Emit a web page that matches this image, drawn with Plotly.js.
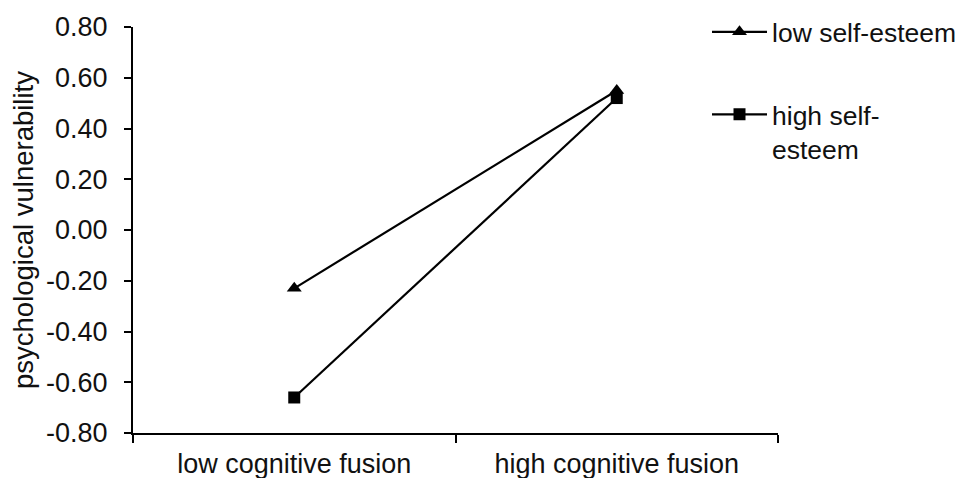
<!DOCTYPE html>
<html>
<head>
<meta charset="utf-8">
<script src="https://cdn.plot.ly/plotly-3.0.1.min.js"></script>
<style>html,body{margin:0;padding:0;background:#fff;}#chart{width:961px;height:478px;}</style>
</head>
<body>
<div id="chart"></div>
<script>
const categories = ["low cognitive fusion", "high cognitive fusion"];
const lowSelfEsteem = [-0.23, 0.55];
const highSelfEsteem = [-0.66, 0.52];
const yTicks = [-0.8, -0.6, -0.4, -0.2, 0, 0.2, 0.4, 0.6, 0.8];
const yTickLabels = ["-0.80", "-0.60", "-0.40", "-0.20", "0.00", "0.20", "0.40", "0.60", "0.80"];
const seriesNames = ["low self-esteem", "high self-<br>esteem"];

const font = {family: "Liberation Sans, Arial, sans-serif", color: "#111"};

const traces = [
  {
    x: categories, y: lowSelfEsteem, name: seriesNames[0], type: "scatter", mode: "lines+markers",
    line: {color: "#000", width: 2.2}, marker: {symbol: "triangle-up", size: 13, color: "#000"},
    legendgroup: "a"
  },
  {
    x: categories, y: highSelfEsteem, name: seriesNames[1], type: "scatter", mode: "lines+markers",
    line: {color: "#000", width: 2.2}, marker: {symbol: "square", size: 12, color: "#000"},
    legendgroup: "b"
  }
];

const layout = {
  width: 961, height: 478,
  margin: {l: 133, r: 183, t: 27, b: 45, autoexpand: false},
  paper_bgcolor: "#fff", plot_bgcolor: "#fff",
  font: font,
  showlegend: true,
  legend: {
    xref: "container", yref: "container",
    x: 0.7357, y: 0.983, xanchor: "left", yanchor: "top",
    font: {family: font.family, size: 26.5, color: "#111"},
    tracegroupgap: 45, itemwidth: 55, valign: "top", bgcolor: "rgba(0,0,0,0)"
  },
  xaxis: {
    type: "category", range: [-0.5, 1.5],
    showline: true, linecolor: "#000", linewidth: 2,
    ticks: "outside", tickson: "boundaries", ticklen: 8, tickwidth: 2, tickcolor: "#000",
    tickfont: {family: font.family, size: 27, color: "#111"},
    ticklabelstandoff: 6,
    showgrid: false, zeroline: false, fixedrange: true
  },
  yaxis: {
    range: [-0.8, 0.8],
    tickvals: yTicks, ticktext: yTickLabels,
    showline: true, linecolor: "#000", linewidth: 2,
    ticks: "outside", ticklen: 7, tickwidth: 2, tickcolor: "#000",
    tickfont: {family: font.family, size: 27, color: "#111"},
    ticklabelstandoff: 11,
    showgrid: false, zeroline: false, fixedrange: true,
    title: {text: "psychological vulnerability", font: {family: font.family, size: 27.5, color: "#111"}, standoff: 4}
  }
};

Plotly.newPlot("chart", traces, layout, {displayModeBar: false, staticPlot: true});
</script>
</body>
</html>
